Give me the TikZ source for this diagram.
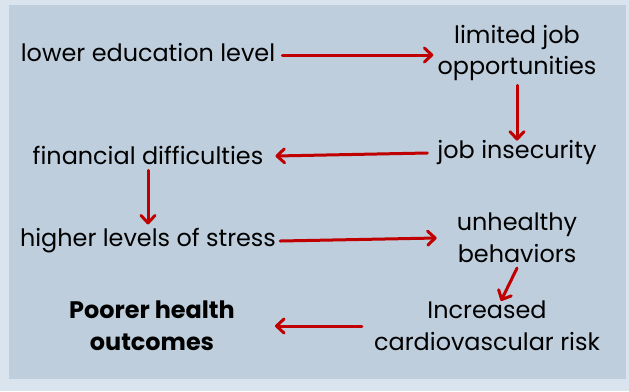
\documentclass[tikz,border=0pt]{standalone}
\usepackage{fontspec}
\setmainfont{Poppins}
\usetikzlibrary{arrows.meta,calc}
\definecolor{outerbg}{RGB}{218,228,238}
\definecolor{innerbg}{RGB}{190,206,220}
\definecolor{arrred}{RGB}{192,0,0}
\tikzset{
  lbl/.style={inner sep=2bp, align=center, font=\fontsize{24}{32}\selectfont, text=black},
  arr/.style={draw=arrred, line width=3bp, line cap=round, -{Straight Barb[length=7.5bp,width=14bp,line cap=round,line join=round]}}
}
\begin{document}
\begin{tikzpicture}[x=1bp,y=-1bp]
\fill[outerbg] (0,0) rectangle (629,391);
\fill[innerbg] (9,5) rectangle (626,379);
\useasboundingbox (0,0) rectangle (629,391);
\node[lbl] (lel) at (148,53) {lower education level};
\node[lbl] (ljo) at (517,53) {limited job\\opportunities};
\node[lbl] (ji) at (517,153) {job insecurity};
\node[lbl] (fd) at (148,155) {financial difficulties};
\node[lbl] (hls) at (148,241) {higher levels of stress};
\node[lbl] (ub) at (517,238) {unhealthy\\behaviors};
\node[lbl] (icr) at (487,326) {Increased\\cardiovascular risk};
\node[lbl, font=\fontsize{24}{32}\selectfont\bfseries] (pho) at (152,326) {Poorer health\\outcomes};
\draw[arr] ($(lel.east)+(5,2)$) -- ($(ljo.west)+(-2,2)$);
\draw[arr] ($(ljo.south)+(0,2)$) -- ($(ji.north)+(0,2)$);
\draw[arr] ($(ji.west)+(-8,0)$) -- ($(fd.east)+(10,1)$);
\draw[arr] ($(fd.south)+(0,4)$) -- ($(hls.north)+(0,-2)$);
\draw[arr] ($(hls.east)+(2,0)$) -- ($(ub.west)+(-18,0)$);
\draw[arr] ($(ub.south)+(0,3)$) -- ($(icr.north)+(14,2)$);
\draw[arr] ($(icr.west)+(-10,0)$) -- ($(pho.east)+(38,0)$);
\end{tikzpicture}
\end{document}
